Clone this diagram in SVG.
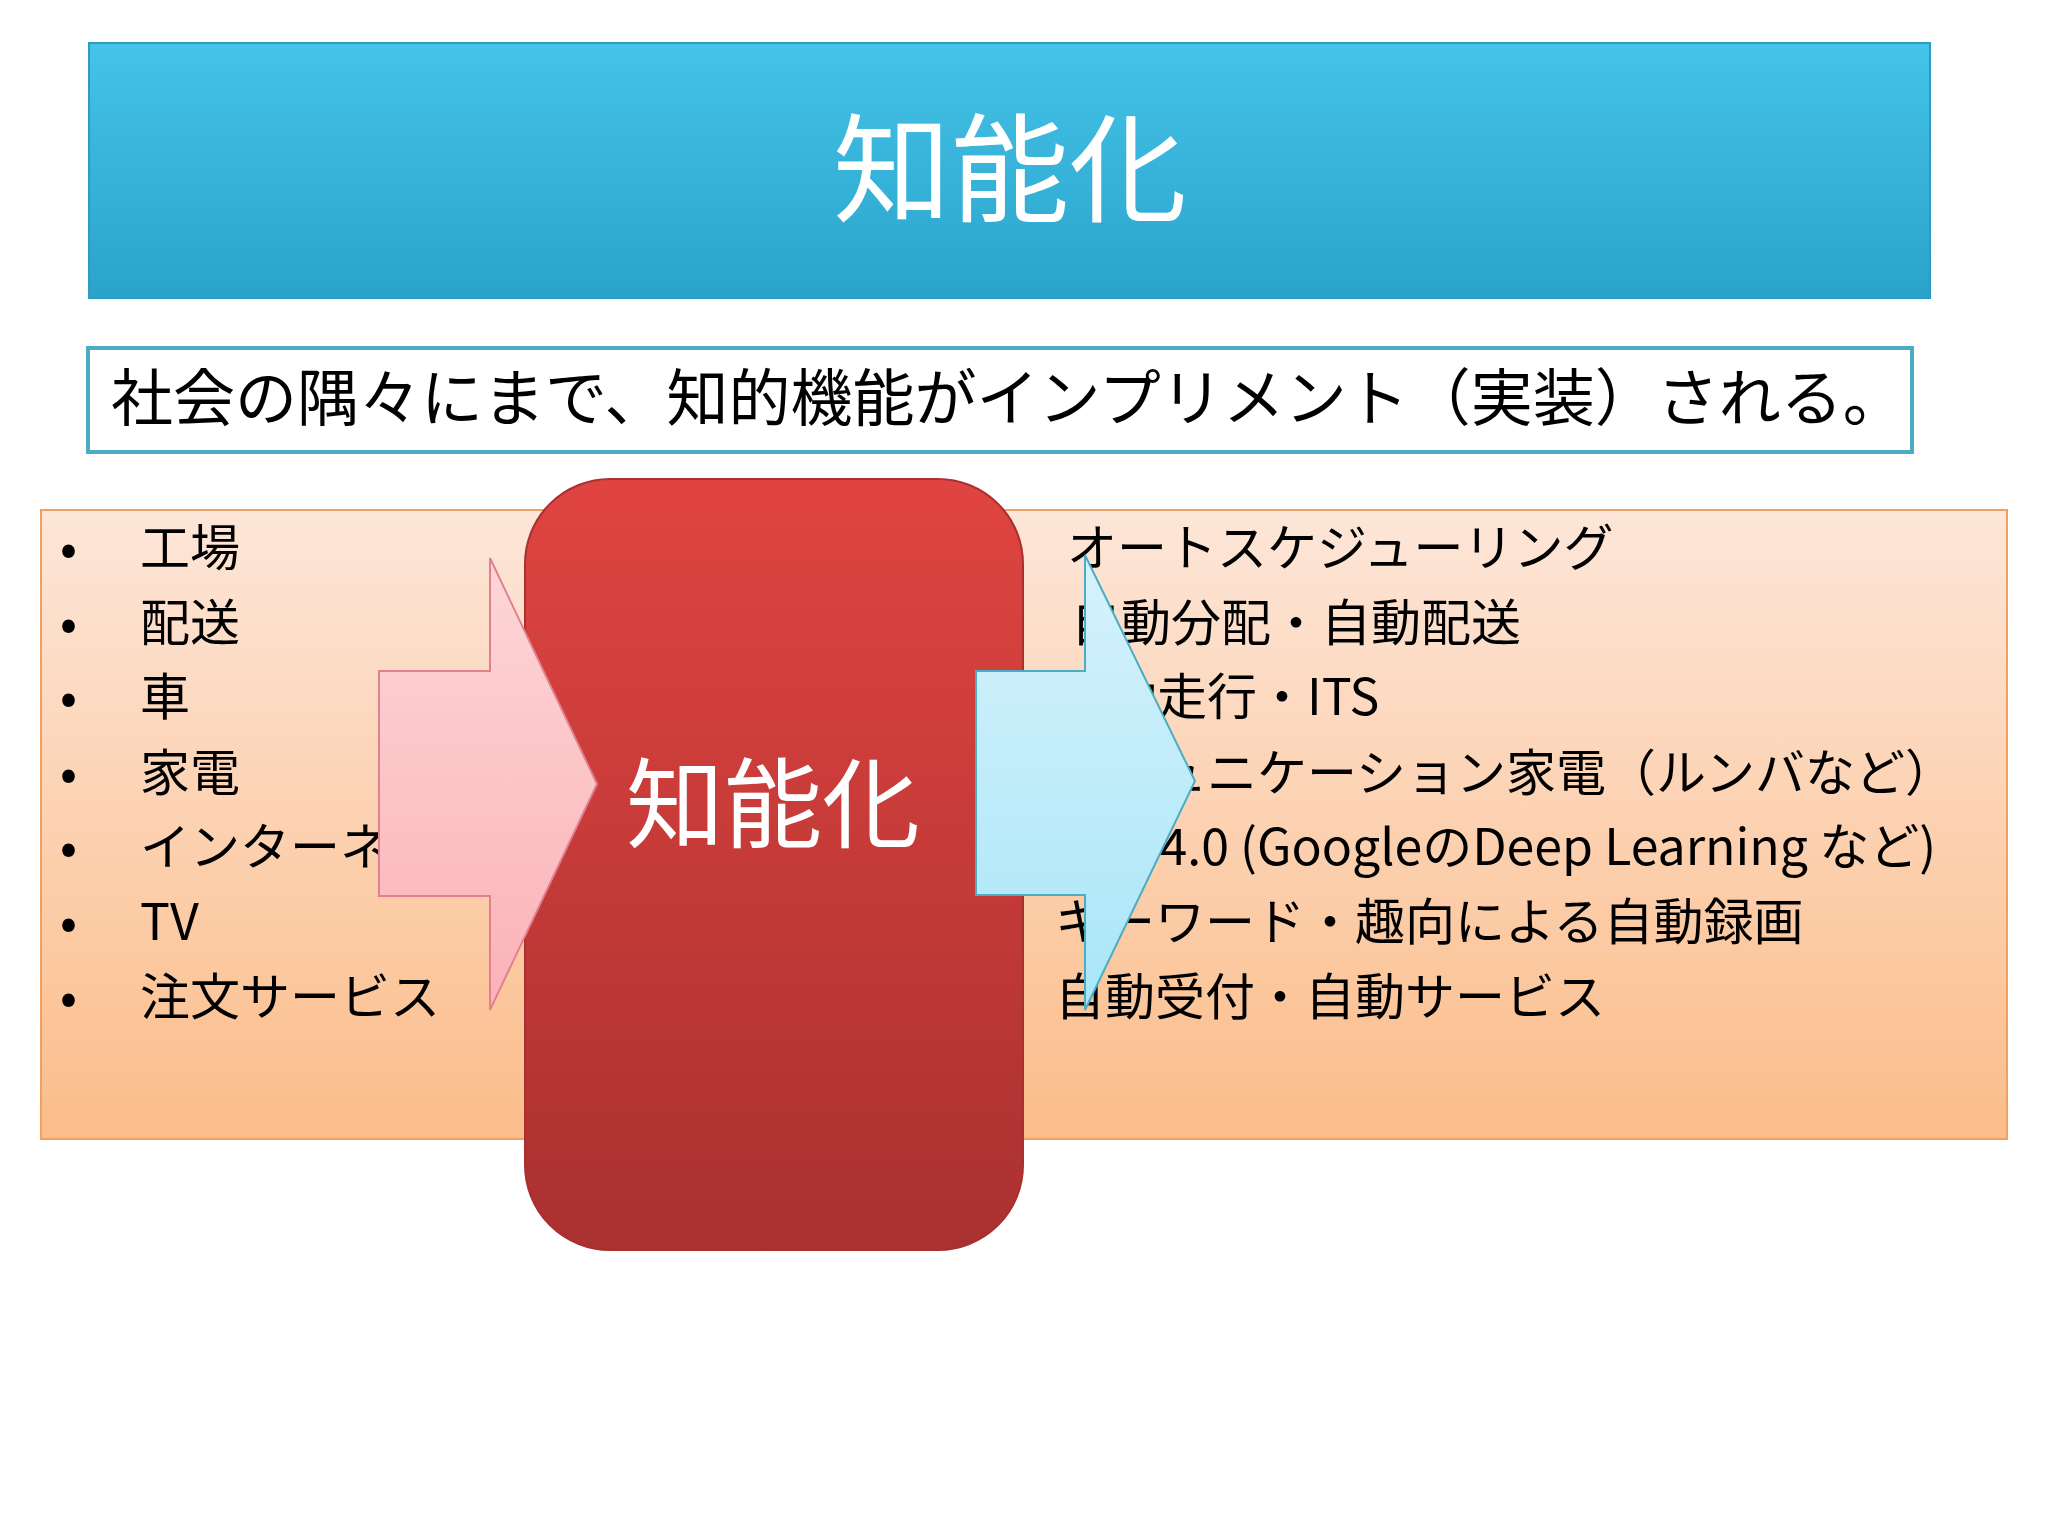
<svg xmlns="http://www.w3.org/2000/svg" width="2048" height="1536" viewBox="0 0 2048 1536">
<defs>
<linearGradient id="gT" x1="0" y1="0" x2="0" y2="1"><stop offset="0" stop-color="#45c3e8"/><stop offset="1" stop-color="#2aa3cb"/></linearGradient>
<linearGradient id="gO" x1="0" y1="0" x2="0" y2="1"><stop offset="0" stop-color="#fde6d8"/><stop offset="1" stop-color="#fbbd8a"/></linearGradient>
<linearGradient id="gR" x1="0" y1="0" x2="0" y2="1"><stop offset="0" stop-color="#e04440"/><stop offset="1" stop-color="#a93130"/></linearGradient>
<linearGradient id="gP" x1="0" y1="0" x2="0" y2="1"><stop offset="0" stop-color="#fdd6d6"/><stop offset="1" stop-color="#fbb2b8"/></linearGradient>
<linearGradient id="gB" x1="0" y1="0" x2="0" y2="1"><stop offset="0" stop-color="#d6f2fc"/><stop offset="1" stop-color="#a9e6f7"/></linearGradient>
<style>
text{font-family:"Noto Sans CJK JP","Liberation Sans",sans-serif;fill:#000}
.li{font-size:50px}
</style>
</defs>
<g id="title"><rect x="89" y="43" width="1841" height="255" fill="url(#gT)" stroke="#2d9cc0" stroke-width="2"/>
<text x="1010" y="213" font-size="118" text-anchor="middle" style="fill:#fff">知能化</text></g>
<g id="subtitle"><rect x="88" y="348" width="1824" height="104" fill="#fff" stroke="#4bacc6" stroke-width="4"/>
<text x="111" y="421" font-size="62">社会の隅々にまで、知的機能がインプリメント（実装）される。</text></g>
<g id="panel"><rect x="41" y="510" width="1966" height="629" fill="url(#gO)" stroke="#f0a060" stroke-width="2"/>
<g class="li">
<text x="60" y="566">•</text><text x="140" y="566">工場</text>
<text x="60" y="641">•</text><text x="140" y="641">配送</text>
<text x="60" y="715">•</text><text x="140" y="715">車</text>
<text x="60" y="791">•</text><text x="140" y="791">家電</text>
<text x="60" y="865">•</text><text x="140" y="865">インターネット</text>
<text x="60" y="940">•</text><text x="140" y="940">TV</text>
<text x="60" y="1015">•</text><text x="140" y="1015">注文サービス</text>
<text x="1067" y="566">オートスケジューリング</text>
<text x="1071" y="641">自動分配・自動配送</text>
<text x="1057" y="715">自動走行・ITS</text>
<text x="1057" y="791">コミュニケーション家電（ルンバなど）</text>
<text x="1057" y="865">Web4.0 (GoogleのDeep Learning など)</text>
<text x="1055" y="940">キーワード・趣向による自動録画</text>
<text x="1055" y="1015">自動受付・自動サービス</text>
</g></g>
<g id="core"><rect x="525" y="479" width="498" height="771" rx="85" fill="url(#gR)" stroke="#a83030" stroke-width="2"/>
<text x="773" y="840" font-size="98" text-anchor="middle" style="fill:#fff">知能化</text></g>
<g id="connectors">
<polygon points="379,671 490,671 490,558 597,784 490,1010 490,896 379,896" fill="url(#gP)" stroke="#e08090" stroke-width="2"/>
<polygon points="976,671 1085,671 1085,555 1195,781 1085,1010 1085,895 976,895" fill="url(#gB)" stroke="#4bacc6" stroke-width="2"/>
</g>
</svg>
